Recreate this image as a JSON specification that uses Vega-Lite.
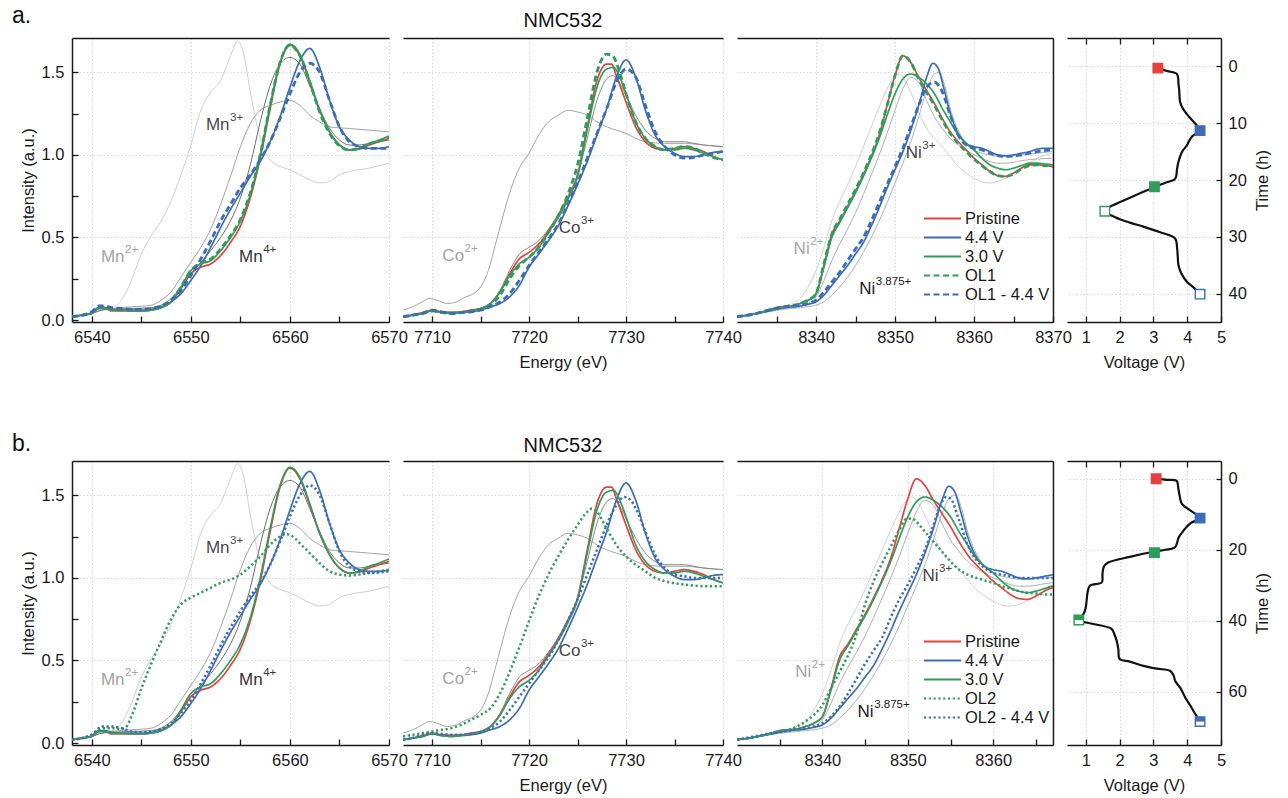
{
"$schema": "https://vega.github.io/schema/vega-lite/v6.json",
"background": "white",
"padding": {"left": 12, "top": 5, "right": 4, "bottom": 4},
"spacing": 62,
"config": {
  "font": "Liberation Sans",
  "view": {"stroke": null},
  "axis": {"labelFont": "Liberation Sans", "titleFont": "Liberation Sans", "labelFontSize": 16.5, "titleFontSize": 16.5, "titleFontWeight": "normal", "labelColor": "#1a1a1a", "titleColor": "#1a1a1a", "domainColor": "#1a1a1a", "domainWidth": 1.5, "tickColor": "#1a1a1a", "tickWidth": 1.3, "gridColor": "#d6d6d6", "gridDash": [1.5, 2], "gridWidth": 0.9, "labelFlush": false, "labelOverlap": false},
  "title": {"font": "Liberation Sans", "fontWeight": "normal", "color": "#111111"}
},
"resolve": {"scale": {"x": "independent", "y": "independent", "color": "independent", "fill": "independent", "stroke": "independent", "strokeDash": "independent"}},
"datasets": {
"mnBase": [
{"s":"Pristine","e":6538,"i":0.02},{"s":"Pristine","e":6539,"i":0.03},{"s":"Pristine","e":6540,"i":0.04},{"s":"Pristine","e":6540.7,"i":0.07},{"s":"Pristine","e":6541.3,"i":0.07},{"s":"Pristine","e":6542,"i":0.055},{"s":"Pristine","e":6543,"i":0.055},{"s":"Pristine","e":6544,"i":0.055},{"s":"Pristine","e":6545,"i":0.055},{"s":"Pristine","e":6546,"i":0.06},{"s":"Pristine","e":6547,"i":0.075},{"s":"Pristine","e":6548,"i":0.11},{"s":"Pristine","e":6549,"i":0.19},{"s":"Pristine","e":6550,"i":0.28},{"s":"Pristine","e":6551,"i":0.32},{"s":"Pristine","e":6552,"i":0.34},{"s":"Pristine","e":6553,"i":0.39},{"s":"Pristine","e":6554,"i":0.47},{"s":"Pristine","e":6555,"i":0.57},{"s":"Pristine","e":6556,"i":0.74},{"s":"Pristine","e":6557,"i":0.98},{"s":"Pristine","e":6558,"i":1.28},{"s":"Pristine","e":6559,"i":1.55},{"s":"Pristine","e":6560,"i":1.665},{"s":"Pristine","e":6561,"i":1.6},{"s":"Pristine","e":6562,"i":1.44},{"s":"Pristine","e":6563,"i":1.27},{"s":"Pristine","e":6564,"i":1.14},{"s":"Pristine","e":6565,"i":1.06},{"s":"Pristine","e":6566,"i":1.03},{"s":"Pristine","e":6567,"i":1.035},{"s":"Pristine","e":6568,"i":1.06},{"s":"Pristine","e":6569,"i":1.08},{"s":"Pristine","e":6570,"i":1.1},
{"s":"4.4 V","e":6538,"i":0.02},{"s":"4.4 V","e":6539,"i":0.03},{"s":"4.4 V","e":6540,"i":0.045},{"s":"4.4 V","e":6540.7,"i":0.075},{"s":"4.4 V","e":6541.3,"i":0.075},{"s":"4.4 V","e":6542,"i":0.065},{"s":"4.4 V","e":6543,"i":0.06},{"s":"4.4 V","e":6544,"i":0.06},{"s":"4.4 V","e":6545,"i":0.06},{"s":"4.4 V","e":6546,"i":0.065},{"s":"4.4 V","e":6547,"i":0.08},{"s":"4.4 V","e":6548,"i":0.11},{"s":"4.4 V","e":6549,"i":0.16},{"s":"4.4 V","e":6550,"i":0.24},{"s":"4.4 V","e":6551,"i":0.33},{"s":"4.4 V","e":6552,"i":0.44},{"s":"4.4 V","e":6553,"i":0.56},{"s":"4.4 V","e":6554,"i":0.67},{"s":"4.4 V","e":6555,"i":0.77},{"s":"4.4 V","e":6556,"i":0.87},{"s":"4.4 V","e":6557,"i":0.96},{"s":"4.4 V","e":6558,"i":1.08},{"s":"4.4 V","e":6559,"i":1.23},{"s":"4.4 V","e":6560,"i":1.41},{"s":"4.4 V","e":6561,"i":1.57},{"s":"4.4 V","e":6562,"i":1.645},{"s":"4.4 V","e":6563,"i":1.53},{"s":"4.4 V","e":6564,"i":1.33},{"s":"4.4 V","e":6565,"i":1.17},{"s":"4.4 V","e":6566,"i":1.09},{"s":"4.4 V","e":6567,"i":1.05},{"s":"4.4 V","e":6568,"i":1.04},{"s":"4.4 V","e":6569,"i":1.04},{"s":"4.4 V","e":6570,"i":1.05},
{"s":"3.0 V","e":6538,"i":0.02},{"s":"3.0 V","e":6539,"i":0.03},{"s":"3.0 V","e":6540,"i":0.04},{"s":"3.0 V","e":6540.7,"i":0.07},{"s":"3.0 V","e":6541.3,"i":0.07},{"s":"3.0 V","e":6542,"i":0.06},{"s":"3.0 V","e":6543,"i":0.06},{"s":"3.0 V","e":6544,"i":0.055},{"s":"3.0 V","e":6545,"i":0.055},{"s":"3.0 V","e":6546,"i":0.06},{"s":"3.0 V","e":6547,"i":0.075},{"s":"3.0 V","e":6548,"i":0.11},{"s":"3.0 V","e":6549,"i":0.2},{"s":"3.0 V","e":6550,"i":0.3},{"s":"3.0 V","e":6551,"i":0.34},{"s":"3.0 V","e":6552,"i":0.36},{"s":"3.0 V","e":6553,"i":0.42},{"s":"3.0 V","e":6554,"i":0.5},{"s":"3.0 V","e":6555,"i":0.6},{"s":"3.0 V","e":6556,"i":0.76},{"s":"3.0 V","e":6557,"i":1.0},{"s":"3.0 V","e":6558,"i":1.3},{"s":"3.0 V","e":6559,"i":1.56},{"s":"3.0 V","e":6560,"i":1.67},{"s":"3.0 V","e":6561,"i":1.61},{"s":"3.0 V","e":6562,"i":1.45},{"s":"3.0 V","e":6563,"i":1.27},{"s":"3.0 V","e":6564,"i":1.14},{"s":"3.0 V","e":6565,"i":1.06},{"s":"3.0 V","e":6566,"i":1.03},{"s":"3.0 V","e":6567,"i":1.04},{"s":"3.0 V","e":6568,"i":1.07},{"s":"3.0 V","e":6569,"i":1.09},{"s":"3.0 V","e":6570,"i":1.115}
],
"mnOL1": [
{"s":"OL1","e":6538,"i":0.02},{"s":"OL1","e":6540,"i":0.045},{"s":"OL1","e":6540.7,"i":0.075},{"s":"OL1","e":6541.3,"i":0.075},{"s":"OL1","e":6542,"i":0.065},{"s":"OL1","e":6543,"i":0.06},{"s":"OL1","e":6544,"i":0.06},{"s":"OL1","e":6545,"i":0.06},{"s":"OL1","e":6546,"i":0.065},{"s":"OL1","e":6547,"i":0.08},{"s":"OL1","e":6548,"i":0.115},{"s":"OL1","e":6549,"i":0.2},{"s":"OL1","e":6550,"i":0.3},{"s":"OL1","e":6551,"i":0.345},{"s":"OL1","e":6552,"i":0.37},{"s":"OL1","e":6553,"i":0.43},{"s":"OL1","e":6554,"i":0.51},{"s":"OL1","e":6555,"i":0.61},{"s":"OL1","e":6556,"i":0.77},{"s":"OL1","e":6557,"i":1.0},{"s":"OL1","e":6558,"i":1.3},{"s":"OL1","e":6559,"i":1.56},{"s":"OL1","e":6560,"i":1.665},{"s":"OL1","e":6561,"i":1.6},{"s":"OL1","e":6562,"i":1.44},{"s":"OL1","e":6563,"i":1.26},{"s":"OL1","e":6564,"i":1.13},{"s":"OL1","e":6565,"i":1.055},{"s":"OL1","e":6566,"i":1.03},{"s":"OL1","e":6567,"i":1.04},{"s":"OL1","e":6568,"i":1.065},{"s":"OL1","e":6569,"i":1.085},{"s":"OL1","e":6570,"i":1.105},
{"s":"OL1 - 4.4 V","e":6538,"i":0.02},{"s":"OL1 - 4.4 V","e":6540,"i":0.05},{"s":"OL1 - 4.4 V","e":6540.7,"i":0.085},{"s":"OL1 - 4.4 V","e":6541.3,"i":0.085},{"s":"OL1 - 4.4 V","e":6542,"i":0.075},{"s":"OL1 - 4.4 V","e":6543,"i":0.07},{"s":"OL1 - 4.4 V","e":6544,"i":0.065},{"s":"OL1 - 4.4 V","e":6545,"i":0.065},{"s":"OL1 - 4.4 V","e":6546,"i":0.07},{"s":"OL1 - 4.4 V","e":6547,"i":0.085},{"s":"OL1 - 4.4 V","e":6548,"i":0.12},{"s":"OL1 - 4.4 V","e":6549,"i":0.18},{"s":"OL1 - 4.4 V","e":6550,"i":0.27},{"s":"OL1 - 4.4 V","e":6551,"i":0.37},{"s":"OL1 - 4.4 V","e":6552,"i":0.48},{"s":"OL1 - 4.4 V","e":6553,"i":0.6},{"s":"OL1 - 4.4 V","e":6554,"i":0.7},{"s":"OL1 - 4.4 V","e":6555,"i":0.8},{"s":"OL1 - 4.4 V","e":6556,"i":0.88},{"s":"OL1 - 4.4 V","e":6557,"i":0.97},{"s":"OL1 - 4.4 V","e":6558,"i":1.08},{"s":"OL1 - 4.4 V","e":6559,"i":1.22},{"s":"OL1 - 4.4 V","e":6560,"i":1.37},{"s":"OL1 - 4.4 V","e":6561,"i":1.5},{"s":"OL1 - 4.4 V","e":6562,"i":1.555},{"s":"OL1 - 4.4 V","e":6563,"i":1.5},{"s":"OL1 - 4.4 V","e":6564,"i":1.33},{"s":"OL1 - 4.4 V","e":6565,"i":1.17},{"s":"OL1 - 4.4 V","e":6566,"i":1.08},{"s":"OL1 - 4.4 V","e":6567,"i":1.05},{"s":"OL1 - 4.4 V","e":6568,"i":1.04},{"s":"OL1 - 4.4 V","e":6570,"i":1.04}
],
"mnOL2": [
{"s":"OL2","e":6538,"i":0.02},{"s":"OL2","e":6540,"i":0.05},{"s":"OL2","e":6541,"i":0.09},{"s":"OL2","e":6542,"i":0.09},{"s":"OL2","e":6543,"i":0.085},{"s":"OL2","e":6543.5,"i":0.1},{"s":"OL2","e":6544,"i":0.16},{"s":"OL2","e":6545,"i":0.33},{"s":"OL2","e":6546,"i":0.48},{"s":"OL2","e":6547,"i":0.62},{"s":"OL2","e":6548,"i":0.75},{"s":"OL2","e":6549,"i":0.84},{"s":"OL2","e":6550,"i":0.88},{"s":"OL2","e":6551,"i":0.91},{"s":"OL2","e":6552,"i":0.94},{"s":"OL2","e":6553,"i":0.97},{"s":"OL2","e":6554,"i":0.99},{"s":"OL2","e":6555,"i":1.02},{"s":"OL2","e":6556,"i":1.07},{"s":"OL2","e":6557,"i":1.13},{"s":"OL2","e":6558,"i":1.2},{"s":"OL2","e":6559,"i":1.25},{"s":"OL2","e":6559.7,"i":1.265},{"s":"OL2","e":6560.5,"i":1.24},{"s":"OL2","e":6561,"i":1.21},{"s":"OL2","e":6562,"i":1.15},{"s":"OL2","e":6563,"i":1.09},{"s":"OL2","e":6564,"i":1.04},{"s":"OL2","e":6565,"i":1.02},{"s":"OL2","e":6566,"i":1.015},{"s":"OL2","e":6567,"i":1.02},{"s":"OL2","e":6568,"i":1.03},{"s":"OL2","e":6570,"i":1.05},
{"s":"OL2 - 4.4 V","e":6538,"i":0.02},{"s":"OL2 - 4.4 V","e":6540,"i":0.05},{"s":"OL2 - 4.4 V","e":6541,"i":0.1},{"s":"OL2 - 4.4 V","e":6542,"i":0.1},{"s":"OL2 - 4.4 V","e":6543,"i":0.09},{"s":"OL2 - 4.4 V","e":6544,"i":0.07},{"s":"OL2 - 4.4 V","e":6545,"i":0.065},{"s":"OL2 - 4.4 V","e":6546,"i":0.07},{"s":"OL2 - 4.4 V","e":6547,"i":0.085},{"s":"OL2 - 4.4 V","e":6548,"i":0.12},{"s":"OL2 - 4.4 V","e":6549,"i":0.18},{"s":"OL2 - 4.4 V","e":6550,"i":0.26},{"s":"OL2 - 4.4 V","e":6551,"i":0.36},{"s":"OL2 - 4.4 V","e":6552,"i":0.47},{"s":"OL2 - 4.4 V","e":6553,"i":0.59},{"s":"OL2 - 4.4 V","e":6554,"i":0.7},{"s":"OL2 - 4.4 V","e":6555,"i":0.8},{"s":"OL2 - 4.4 V","e":6556,"i":0.89},{"s":"OL2 - 4.4 V","e":6557,"i":0.97},{"s":"OL2 - 4.4 V","e":6558,"i":1.08},{"s":"OL2 - 4.4 V","e":6559,"i":1.22},{"s":"OL2 - 4.4 V","e":6560,"i":1.37},{"s":"OL2 - 4.4 V","e":6561,"i":1.5},{"s":"OL2 - 4.4 V","e":6562,"i":1.56},{"s":"OL2 - 4.4 V","e":6563,"i":1.5},{"s":"OL2 - 4.4 V","e":6564,"i":1.33},{"s":"OL2 - 4.4 V","e":6565,"i":1.16},{"s":"OL2 - 4.4 V","e":6566,"i":1.07},{"s":"OL2 - 4.4 V","e":6567,"i":1.04},{"s":"OL2 - 4.4 V","e":6568,"i":1.03},{"s":"OL2 - 4.4 V","e":6570,"i":1.04}
],
"mnRef": [
{"ion":"2+","e":6538,"i":0.02},{"ion":"2+","e":6540,"i":0.04},{"ion":"2+","e":6541,"i":0.07},{"ion":"2+","e":6542,"i":0.075},{"ion":"2+","e":6543,"i":0.12},{"ion":"2+","e":6544,"i":0.24},{"ion":"2+","e":6545,"i":0.4},{"ion":"2+","e":6546,"i":0.51},{"ion":"2+","e":6547,"i":0.6},{"ion":"2+","e":6548,"i":0.72},{"ion":"2+","e":6549,"i":0.88},{"ion":"2+","e":6550,"i":1.06},{"ion":"2+","e":6551,"i":1.27},{"ion":"2+","e":6552,"i":1.38},{"ion":"2+","e":6553,"i":1.45},{"ion":"2+","e":6554,"i":1.6},{"ion":"2+","e":6554.7,"i":1.69},{"ion":"2+","e":6555.3,"i":1.62},{"ion":"2+","e":6556,"i":1.38},{"ion":"2+","e":6557,"i":1.1},{"ion":"2+","e":6558,"i":0.97},{"ion":"2+","e":6559,"i":0.93},{"ion":"2+","e":6560,"i":0.91},{"ion":"2+","e":6561,"i":0.88},{"ion":"2+","e":6562,"i":0.85},{"ion":"2+","e":6563,"i":0.83},{"ion":"2+","e":6564,"i":0.84},{"ion":"2+","e":6565,"i":0.88},{"ion":"2+","e":6566,"i":0.9},{"ion":"2+","e":6568,"i":0.92},{"ion":"2+","e":6570,"i":0.95},
{"ion":"3+","e":6538,"i":0.02},{"ion":"3+","e":6540,"i":0.04},{"ion":"3+","e":6541,"i":0.06},{"ion":"3+","e":6542,"i":0.07},{"ion":"3+","e":6544,"i":0.08},{"ion":"3+","e":6546,"i":0.09},{"ion":"3+","e":6547,"i":0.12},{"ion":"3+","e":6548,"i":0.17},{"ion":"3+","e":6549,"i":0.26},{"ion":"3+","e":6550,"i":0.35},{"ion":"3+","e":6551,"i":0.44},{"ion":"3+","e":6552,"i":0.55},{"ion":"3+","e":6553,"i":0.7},{"ion":"3+","e":6554,"i":0.87},{"ion":"3+","e":6555,"i":1.05},{"ion":"3+","e":6556,"i":1.19},{"ion":"3+","e":6557,"i":1.27},{"ion":"3+","e":6558,"i":1.3},{"ion":"3+","e":6559,"i":1.32},{"ion":"3+","e":6560,"i":1.33},{"ion":"3+","e":6561,"i":1.3},{"ion":"3+","e":6562,"i":1.24},{"ion":"3+","e":6563,"i":1.2},{"ion":"3+","e":6564,"i":1.17},{"ion":"3+","e":6566,"i":1.16},{"ion":"3+","e":6568,"i":1.15},{"ion":"3+","e":6570,"i":1.14},
{"ion":"4+","e":6538,"i":0.02},{"ion":"4+","e":6540,"i":0.04},{"ion":"4+","e":6541,"i":0.06},{"ion":"4+","e":6542,"i":0.065},{"ion":"4+","e":6544,"i":0.07},{"ion":"4+","e":6546,"i":0.075},{"ion":"4+","e":6547,"i":0.09},{"ion":"4+","e":6548,"i":0.13},{"ion":"4+","e":6549,"i":0.2},{"ion":"4+","e":6550,"i":0.28},{"ion":"4+","e":6551,"i":0.35},{"ion":"4+","e":6552,"i":0.42},{"ion":"4+","e":6553,"i":0.5},{"ion":"4+","e":6554,"i":0.6},{"ion":"4+","e":6555,"i":0.74},{"ion":"4+","e":6556,"i":0.94},{"ion":"4+","e":6557,"i":1.2},{"ion":"4+","e":6558,"i":1.42},{"ion":"4+","e":6559,"i":1.55},{"ion":"4+","e":6560,"i":1.59},{"ion":"4+","e":6561,"i":1.55},{"ion":"4+","e":6562,"i":1.42},{"ion":"4+","e":6563,"i":1.28},{"ion":"4+","e":6564,"i":1.16},{"ion":"4+","e":6565,"i":1.09},{"ion":"4+","e":6566,"i":1.06},{"ion":"4+","e":6567,"i":1.06},{"ion":"4+","e":6568,"i":1.07},{"ion":"4+","e":6570,"i":1.09}
],
"mnLab": [{"el":"Mn","ion":"2+","e":6543.3,"i":0.38},{"el":"Mn","ion":"3+","e":6553.9,"i":1.18},{"el":"Mn","ion":"4+","e":6557.25,"i":0.38}],
"coBase": [
{"s":"Pristine","e":7707,"i":0.02},{"s":"Pristine","e":7708,"i":0.03},{"s":"Pristine","e":7709,"i":0.045},{"s":"Pristine","e":7710,"i":0.06},{"s":"Pristine","e":7711,"i":0.05},{"s":"Pristine","e":7712,"i":0.045},{"s":"Pristine","e":7713,"i":0.05},{"s":"Pristine","e":7714,"i":0.06},{"s":"Pristine","e":7715,"i":0.07},{"s":"Pristine","e":7716,"i":0.1},{"s":"Pristine","e":7717,"i":0.17},{"s":"Pristine","e":7718,"i":0.28},{"s":"Pristine","e":7719,"i":0.37},{"s":"Pristine","e":7720,"i":0.41},{"s":"Pristine","e":7721,"i":0.46},{"s":"Pristine","e":7722,"i":0.54},{"s":"Pristine","e":7723,"i":0.63},{"s":"Pristine","e":7724,"i":0.74},{"s":"Pristine","e":7725,"i":0.88},{"s":"Pristine","e":7726,"i":1.17},{"s":"Pristine","e":7727,"i":1.45},{"s":"Pristine","e":7728,"i":1.55},{"s":"Pristine","e":7728.5,"i":1.55},{"s":"Pristine","e":7729,"i":1.48},{"s":"Pristine","e":7730,"i":1.32},{"s":"Pristine","e":7731,"i":1.17},{"s":"Pristine","e":7732,"i":1.08},{"s":"Pristine","e":7733,"i":1.04},{"s":"Pristine","e":7734,"i":1.03},{"s":"Pristine","e":7735,"i":1.04},{"s":"Pristine","e":7736,"i":1.05},{"s":"Pristine","e":7737,"i":1.04},{"s":"Pristine","e":7738,"i":1.02},{"s":"Pristine","e":7739,"i":0.99},{"s":"Pristine","e":7740,"i":0.97},
{"s":"4.4 V","e":7707,"i":0.02},{"s":"4.4 V","e":7708,"i":0.03},{"s":"4.4 V","e":7709,"i":0.04},{"s":"4.4 V","e":7710,"i":0.055},{"s":"4.4 V","e":7711,"i":0.045},{"s":"4.4 V","e":7712,"i":0.04},{"s":"4.4 V","e":7713,"i":0.045},{"s":"4.4 V","e":7714,"i":0.05},{"s":"4.4 V","e":7715,"i":0.06},{"s":"4.4 V","e":7716,"i":0.08},{"s":"4.4 V","e":7717,"i":0.1},{"s":"4.4 V","e":7718,"i":0.14},{"s":"4.4 V","e":7719,"i":0.21},{"s":"4.4 V","e":7720,"i":0.32},{"s":"4.4 V","e":7721,"i":0.4},{"s":"4.4 V","e":7722,"i":0.48},{"s":"4.4 V","e":7723,"i":0.57},{"s":"4.4 V","e":7724,"i":0.69},{"s":"4.4 V","e":7725,"i":0.82},{"s":"4.4 V","e":7726,"i":0.96},{"s":"4.4 V","e":7727,"i":1.12},{"s":"4.4 V","e":7728,"i":1.28},{"s":"4.4 V","e":7729,"i":1.47},{"s":"4.4 V","e":7730,"i":1.575},{"s":"4.4 V","e":7731,"i":1.47},{"s":"4.4 V","e":7732,"i":1.27},{"s":"4.4 V","e":7733,"i":1.12},{"s":"4.4 V","e":7734,"i":1.05},{"s":"4.4 V","e":7735,"i":1.01},{"s":"4.4 V","e":7736,"i":0.99},{"s":"4.4 V","e":7737,"i":0.99},{"s":"4.4 V","e":7738,"i":1.0},{"s":"4.4 V","e":7739,"i":1.015},{"s":"4.4 V","e":7740,"i":1.02},
{"s":"3.0 V","e":7707,"i":0.02},{"s":"3.0 V","e":7708,"i":0.03},{"s":"3.0 V","e":7709,"i":0.04},{"s":"3.0 V","e":7710,"i":0.055},{"s":"3.0 V","e":7711,"i":0.045},{"s":"3.0 V","e":7712,"i":0.04},{"s":"3.0 V","e":7713,"i":0.045},{"s":"3.0 V","e":7714,"i":0.055},{"s":"3.0 V","e":7715,"i":0.07},{"s":"3.0 V","e":7716,"i":0.1},{"s":"3.0 V","e":7717,"i":0.17},{"s":"3.0 V","e":7718,"i":0.27},{"s":"3.0 V","e":7719,"i":0.34},{"s":"3.0 V","e":7720,"i":0.38},{"s":"3.0 V","e":7721,"i":0.44},{"s":"3.0 V","e":7722,"i":0.53},{"s":"3.0 V","e":7723,"i":0.62},{"s":"3.0 V","e":7724,"i":0.73},{"s":"3.0 V","e":7725,"i":0.87},{"s":"3.0 V","e":7726,"i":1.15},{"s":"3.0 V","e":7727,"i":1.41},{"s":"3.0 V","e":7728,"i":1.52},{"s":"3.0 V","e":7728.7,"i":1.53},{"s":"3.0 V","e":7729.5,"i":1.45},{"s":"3.0 V","e":7730,"i":1.37},{"s":"3.0 V","e":7731,"i":1.2},{"s":"3.0 V","e":7732,"i":1.1},{"s":"3.0 V","e":7733,"i":1.05},{"s":"3.0 V","e":7734,"i":1.03},{"s":"3.0 V","e":7735,"i":1.03},{"s":"3.0 V","e":7736,"i":1.04},{"s":"3.0 V","e":7737,"i":1.03},{"s":"3.0 V","e":7738,"i":1.01},{"s":"3.0 V","e":7739,"i":0.99},{"s":"3.0 V","e":7740,"i":0.97}
],
"coOL1": [
{"s":"OL1","e":7707,"i":0.02},{"s":"OL1","e":7708,"i":0.03},{"s":"OL1","e":7709,"i":0.04},{"s":"OL1","e":7710,"i":0.055},{"s":"OL1","e":7711,"i":0.045},{"s":"OL1","e":7712,"i":0.04},{"s":"OL1","e":7713,"i":0.045},{"s":"OL1","e":7714,"i":0.055},{"s":"OL1","e":7715,"i":0.065},{"s":"OL1","e":7716,"i":0.09},{"s":"OL1","e":7717,"i":0.15},{"s":"OL1","e":7718,"i":0.25},{"s":"OL1","e":7719,"i":0.33},{"s":"OL1","e":7720,"i":0.38},{"s":"OL1","e":7721,"i":0.44},{"s":"OL1","e":7722,"i":0.53},{"s":"OL1","e":7723,"i":0.63},{"s":"OL1","e":7724,"i":0.76},{"s":"OL1","e":7725,"i":0.94},{"s":"OL1","e":7726,"i":1.22},{"s":"OL1","e":7727,"i":1.5},{"s":"OL1","e":7728,"i":1.61},{"s":"OL1","e":7728.6,"i":1.6},{"s":"OL1","e":7729.5,"i":1.47},{"s":"OL1","e":7730,"i":1.37},{"s":"OL1","e":7731,"i":1.2},{"s":"OL1","e":7732,"i":1.1},{"s":"OL1","e":7733,"i":1.05},{"s":"OL1","e":7734,"i":1.03},{"s":"OL1","e":7735,"i":1.04},{"s":"OL1","e":7736,"i":1.05},{"s":"OL1","e":7737,"i":1.04},{"s":"OL1","e":7738,"i":1.01},{"s":"OL1","e":7739,"i":0.985},{"s":"OL1","e":7740,"i":0.97},
{"s":"OL1 - 4.4 V","e":7707,"i":0.02},{"s":"OL1 - 4.4 V","e":7708,"i":0.03},{"s":"OL1 - 4.4 V","e":7709,"i":0.04},{"s":"OL1 - 4.4 V","e":7710,"i":0.06},{"s":"OL1 - 4.4 V","e":7711,"i":0.05},{"s":"OL1 - 4.4 V","e":7712,"i":0.04},{"s":"OL1 - 4.4 V","e":7713,"i":0.045},{"s":"OL1 - 4.4 V","e":7714,"i":0.05},{"s":"OL1 - 4.4 V","e":7715,"i":0.06},{"s":"OL1 - 4.4 V","e":7716,"i":0.08},{"s":"OL1 - 4.4 V","e":7717,"i":0.11},{"s":"OL1 - 4.4 V","e":7718,"i":0.16},{"s":"OL1 - 4.4 V","e":7719,"i":0.24},{"s":"OL1 - 4.4 V","e":7720,"i":0.33},{"s":"OL1 - 4.4 V","e":7721,"i":0.41},{"s":"OL1 - 4.4 V","e":7722,"i":0.49},{"s":"OL1 - 4.4 V","e":7723,"i":0.58},{"s":"OL1 - 4.4 V","e":7724,"i":0.7},{"s":"OL1 - 4.4 V","e":7725,"i":0.83},{"s":"OL1 - 4.4 V","e":7726,"i":0.98},{"s":"OL1 - 4.4 V","e":7727,"i":1.13},{"s":"OL1 - 4.4 V","e":7728,"i":1.28},{"s":"OL1 - 4.4 V","e":7729,"i":1.44},{"s":"OL1 - 4.4 V","e":7730,"i":1.52},{"s":"OL1 - 4.4 V","e":7731,"i":1.47},{"s":"OL1 - 4.4 V","e":7732,"i":1.3},{"s":"OL1 - 4.4 V","e":7733,"i":1.14},{"s":"OL1 - 4.4 V","e":7734,"i":1.05},{"s":"OL1 - 4.4 V","e":7735,"i":1.0},{"s":"OL1 - 4.4 V","e":7736,"i":0.98},{"s":"OL1 - 4.4 V","e":7737,"i":0.985},{"s":"OL1 - 4.4 V","e":7738,"i":1.0},{"s":"OL1 - 4.4 V","e":7739,"i":1.01},{"s":"OL1 - 4.4 V","e":7740,"i":1.02}
],
"coOL2": [
{"s":"OL2","e":7707,"i":0.04},{"s":"OL2","e":7708,"i":0.05},{"s":"OL2","e":7709,"i":0.06},{"s":"OL2","e":7710,"i":0.07},{"s":"OL2","e":7711,"i":0.08},{"s":"OL2","e":7712,"i":0.09},{"s":"OL2","e":7713,"i":0.11},{"s":"OL2","e":7714,"i":0.14},{"s":"OL2","e":7715,"i":0.17},{"s":"OL2","e":7716,"i":0.21},{"s":"OL2","e":7717,"i":0.3},{"s":"OL2","e":7718,"i":0.43},{"s":"OL2","e":7719,"i":0.58},{"s":"OL2","e":7720,"i":0.74},{"s":"OL2","e":7721,"i":0.89},{"s":"OL2","e":7722,"i":1.02},{"s":"OL2","e":7723,"i":1.13},{"s":"OL2","e":7724,"i":1.23},{"s":"OL2","e":7725,"i":1.32},{"s":"OL2","e":7726,"i":1.4},{"s":"OL2","e":7726.5,"i":1.42},{"s":"OL2","e":7727,"i":1.4},{"s":"OL2","e":7728,"i":1.3},{"s":"OL2","e":7729,"i":1.2},{"s":"OL2","e":7730,"i":1.13},{"s":"OL2","e":7731,"i":1.08},{"s":"OL2","e":7732,"i":1.04},{"s":"OL2","e":7733,"i":1.0},{"s":"OL2","e":7734,"i":0.98},{"s":"OL2","e":7736,"i":0.96},{"s":"OL2","e":7738,"i":0.95},{"s":"OL2","e":7740,"i":0.95},
{"s":"OL2 - 4.4 V","e":7707,"i":0.02},{"s":"OL2 - 4.4 V","e":7708,"i":0.03},{"s":"OL2 - 4.4 V","e":7709,"i":0.05},{"s":"OL2 - 4.4 V","e":7710,"i":0.06},{"s":"OL2 - 4.4 V","e":7711,"i":0.055},{"s":"OL2 - 4.4 V","e":7712,"i":0.05},{"s":"OL2 - 4.4 V","e":7713,"i":0.05},{"s":"OL2 - 4.4 V","e":7714,"i":0.055},{"s":"OL2 - 4.4 V","e":7715,"i":0.065},{"s":"OL2 - 4.4 V","e":7716,"i":0.09},{"s":"OL2 - 4.4 V","e":7717,"i":0.13},{"s":"OL2 - 4.4 V","e":7718,"i":0.2},{"s":"OL2 - 4.4 V","e":7719,"i":0.28},{"s":"OL2 - 4.4 V","e":7720,"i":0.36},{"s":"OL2 - 4.4 V","e":7721,"i":0.44},{"s":"OL2 - 4.4 V","e":7722,"i":0.52},{"s":"OL2 - 4.4 V","e":7723,"i":0.62},{"s":"OL2 - 4.4 V","e":7724,"i":0.74},{"s":"OL2 - 4.4 V","e":7725,"i":0.87},{"s":"OL2 - 4.4 V","e":7726,"i":1.02},{"s":"OL2 - 4.4 V","e":7727,"i":1.17},{"s":"OL2 - 4.4 V","e":7728,"i":1.32},{"s":"OL2 - 4.4 V","e":7729,"i":1.44},{"s":"OL2 - 4.4 V","e":7729.8,"i":1.49},{"s":"OL2 - 4.4 V","e":7730.5,"i":1.47},{"s":"OL2 - 4.4 V","e":7731,"i":1.42},{"s":"OL2 - 4.4 V","e":7732,"i":1.28},{"s":"OL2 - 4.4 V","e":7733,"i":1.14},{"s":"OL2 - 4.4 V","e":7734,"i":1.06},{"s":"OL2 - 4.4 V","e":7735,"i":1.02},{"s":"OL2 - 4.4 V","e":7736,"i":1.01},{"s":"OL2 - 4.4 V","e":7737,"i":1.0},{"s":"OL2 - 4.4 V","e":7738,"i":1.0},{"s":"OL2 - 4.4 V","e":7740,"i":1.0}
],
"coRef": [
{"ion":"2+","e":7707,"i":0.06},{"ion":"2+","e":7708,"i":0.08},{"ion":"2+","e":7709,"i":0.11},{"ion":"2+","e":7709.7,"i":0.13},{"ion":"2+","e":7710.5,"i":0.12},{"ion":"2+","e":7711.5,"i":0.1},{"ion":"2+","e":7712.5,"i":0.11},{"ion":"2+","e":7713.5,"i":0.14},{"ion":"2+","e":7714.3,"i":0.16},{"ion":"2+","e":7715,"i":0.2},{"ion":"2+","e":7715.8,"i":0.3},{"ion":"2+","e":7716.5,"i":0.45},{"ion":"2+","e":7717,"i":0.56},{"ion":"2+","e":7718,"i":0.77},{"ion":"2+","e":7719,"i":0.92},{"ion":"2+","e":7720,"i":1.01},{"ion":"2+","e":7721,"i":1.12},{"ion":"2+","e":7722,"i":1.2},{"ion":"2+","e":7723,"i":1.24},{"ion":"2+","e":7724,"i":1.27},{"ion":"2+","e":7725,"i":1.26},{"ion":"2+","e":7726,"i":1.24},{"ion":"2+","e":7727,"i":1.2},{"ion":"2+","e":7728,"i":1.17},{"ion":"2+","e":7729,"i":1.15},{"ion":"2+","e":7730,"i":1.13},{"ion":"2+","e":7731,"i":1.1},{"ion":"2+","e":7732,"i":1.08},{"ion":"2+","e":7734,"i":1.07},{"ion":"2+","e":7736,"i":1.07},{"ion":"2+","e":7738,"i":1.06},{"ion":"2+","e":7740,"i":1.05},
{"ion":"3+","e":7707,"i":0.02},{"ion":"3+","e":7709,"i":0.04},{"ion":"3+","e":7710,"i":0.06},{"ion":"3+","e":7711,"i":0.05},{"ion":"3+","e":7713,"i":0.05},{"ion":"3+","e":7714,"i":0.06},{"ion":"3+","e":7715,"i":0.07},{"ion":"3+","e":7716,"i":0.1},{"ion":"3+","e":7717,"i":0.18},{"ion":"3+","e":7718,"i":0.3},{"ion":"3+","e":7719,"i":0.4},{"ion":"3+","e":7720,"i":0.44},{"ion":"3+","e":7721,"i":0.48},{"ion":"3+","e":7722,"i":0.55},{"ion":"3+","e":7723,"i":0.64},{"ion":"3+","e":7724,"i":0.75},{"ion":"3+","e":7725,"i":0.88},{"ion":"3+","e":7726,"i":1.1},{"ion":"3+","e":7727,"i":1.33},{"ion":"3+","e":7728,"i":1.46},{"ion":"3+","e":7728.6,"i":1.48},{"ion":"3+","e":7729.5,"i":1.42},{"ion":"3+","e":7730,"i":1.36},{"ion":"3+","e":7731,"i":1.24},{"ion":"3+","e":7732,"i":1.15},{"ion":"3+","e":7733,"i":1.1},{"ion":"3+","e":7734,"i":1.08},{"ion":"3+","e":7735,"i":1.08},{"ion":"3+","e":7736,"i":1.08},{"ion":"3+","e":7737,"i":1.07},{"ion":"3+","e":7738,"i":1.06},{"ion":"3+","e":7740,"i":1.05}
],
"coLab": [{"el":"Co","ion":"2+","e":7713.3,"i":0.39},{"el":"Co","ion":"3+","e":7725.3,"i":0.56}],
"niBase": [
{"s":"Pristine","e":8330,"i":0.02},{"s":"Pristine","e":8332,"i":0.035},{"s":"Pristine","e":8334,"i":0.06},{"s":"Pristine","e":8335,"i":0.075},{"s":"Pristine","e":8336,"i":0.08},{"s":"Pristine","e":8337,"i":0.085},{"s":"Pristine","e":8338,"i":0.1},{"s":"Pristine","e":8339,"i":0.12},{"s":"Pristine","e":8340,"i":0.16},{"s":"Pristine","e":8341,"i":0.33},{"s":"Pristine","e":8342,"i":0.52},{"s":"Pristine","e":8343,"i":0.6},{"s":"Pristine","e":8344,"i":0.69},{"s":"Pristine","e":8345,"i":0.78},{"s":"Pristine","e":8346,"i":0.88},{"s":"Pristine","e":8347,"i":0.99},{"s":"Pristine","e":8348,"i":1.12},{"s":"Pristine","e":8349,"i":1.3},{"s":"Pristine","e":8350,"i":1.48},{"s":"Pristine","e":8351,"i":1.6},{"s":"Pristine","e":8352,"i":1.56},{"s":"Pristine","e":8353,"i":1.47},{"s":"Pristine","e":8354,"i":1.39},{"s":"Pristine","e":8355,"i":1.31},{"s":"Pristine","e":8356,"i":1.22},{"s":"Pristine","e":8357,"i":1.14},{"s":"Pristine","e":8358,"i":1.08},{"s":"Pristine","e":8359,"i":1.03},{"s":"Pristine","e":8360,"i":0.98},{"s":"Pristine","e":8361,"i":0.94},{"s":"Pristine","e":8362,"i":0.9},{"s":"Pristine","e":8363,"i":0.875},{"s":"Pristine","e":8364,"i":0.87},{"s":"Pristine","e":8365,"i":0.89},{"s":"Pristine","e":8366,"i":0.92},{"s":"Pristine","e":8367,"i":0.94},{"s":"Pristine","e":8368,"i":0.94},{"s":"Pristine","e":8369,"i":0.935},{"s":"Pristine","e":8370,"i":0.93},
{"s":"4.4 V","e":8330,"i":0.02},{"s":"4.4 V","e":8332,"i":0.035},{"s":"4.4 V","e":8334,"i":0.055},{"s":"4.4 V","e":8336,"i":0.075},{"s":"4.4 V","e":8338,"i":0.085},{"s":"4.4 V","e":8339,"i":0.095},{"s":"4.4 V","e":8340,"i":0.11},{"s":"4.4 V","e":8341,"i":0.15},{"s":"4.4 V","e":8342,"i":0.21},{"s":"4.4 V","e":8343,"i":0.27},{"s":"4.4 V","e":8344,"i":0.33},{"s":"4.4 V","e":8345,"i":0.4},{"s":"4.4 V","e":8346,"i":0.47},{"s":"4.4 V","e":8347,"i":0.57},{"s":"4.4 V","e":8348,"i":0.68},{"s":"4.4 V","e":8349,"i":0.8},{"s":"4.4 V","e":8350,"i":0.91},{"s":"4.4 V","e":8351,"i":1.02},{"s":"4.4 V","e":8352,"i":1.15},{"s":"4.4 V","e":8353,"i":1.3},{"s":"4.4 V","e":8354,"i":1.47},{"s":"4.4 V","e":8354.8,"i":1.555},{"s":"4.4 V","e":8355.5,"i":1.52},{"s":"4.4 V","e":8356.2,"i":1.4},{"s":"4.4 V","e":8357,"i":1.25},{"s":"4.4 V","e":8358,"i":1.13},{"s":"4.4 V","e":8359,"i":1.07},{"s":"4.4 V","e":8360,"i":1.05},{"s":"4.4 V","e":8361,"i":1.04},{"s":"4.4 V","e":8362,"i":1.02},{"s":"4.4 V","e":8363,"i":1.0},{"s":"4.4 V","e":8364,"i":0.995},{"s":"4.4 V","e":8365,"i":1.0},{"s":"4.4 V","e":8366,"i":1.01},{"s":"4.4 V","e":8367,"i":1.02},{"s":"4.4 V","e":8368,"i":1.035},{"s":"4.4 V","e":8369,"i":1.04},{"s":"4.4 V","e":8370,"i":1.04},
{"s":"3.0 V","e":8330,"i":0.02},{"s":"3.0 V","e":8332,"i":0.035},{"s":"3.0 V","e":8334,"i":0.06},{"s":"3.0 V","e":8335,"i":0.075},{"s":"3.0 V","e":8336,"i":0.08},{"s":"3.0 V","e":8337,"i":0.085},{"s":"3.0 V","e":8338,"i":0.1},{"s":"3.0 V","e":8339,"i":0.12},{"s":"3.0 V","e":8340,"i":0.16},{"s":"3.0 V","e":8341,"i":0.32},{"s":"3.0 V","e":8342,"i":0.5},{"s":"3.0 V","e":8343,"i":0.59},{"s":"3.0 V","e":8344,"i":0.68},{"s":"3.0 V","e":8345,"i":0.77},{"s":"3.0 V","e":8346,"i":0.87},{"s":"3.0 V","e":8347,"i":0.98},{"s":"3.0 V","e":8348,"i":1.1},{"s":"3.0 V","e":8349,"i":1.24},{"s":"3.0 V","e":8350,"i":1.37},{"s":"3.0 V","e":8351,"i":1.46},{"s":"3.0 V","e":8352,"i":1.49},{"s":"3.0 V","e":8353,"i":1.47},{"s":"3.0 V","e":8354,"i":1.43},{"s":"3.0 V","e":8355,"i":1.37},{"s":"3.0 V","e":8356,"i":1.28},{"s":"3.0 V","e":8357,"i":1.2},{"s":"3.0 V","e":8358,"i":1.12},{"s":"3.0 V","e":8359,"i":1.07},{"s":"3.0 V","e":8360,"i":1.03},{"s":"3.0 V","e":8361,"i":0.98},{"s":"3.0 V","e":8362,"i":0.94},{"s":"3.0 V","e":8363,"i":0.92},{"s":"3.0 V","e":8364,"i":0.91},{"s":"3.0 V","e":8365,"i":0.92},{"s":"3.0 V","e":8366,"i":0.935},{"s":"3.0 V","e":8367,"i":0.95},{"s":"3.0 V","e":8368,"i":0.95},{"s":"3.0 V","e":8369,"i":0.945},{"s":"3.0 V","e":8370,"i":0.94}
],
"niOL1": [
{"s":"OL1","e":8330,"i":0.02},{"s":"OL1","e":8332,"i":0.035},{"s":"OL1","e":8334,"i":0.06},{"s":"OL1","e":8336,"i":0.08},{"s":"OL1","e":8338,"i":0.1},{"s":"OL1","e":8339,"i":0.12},{"s":"OL1","e":8340,"i":0.16},{"s":"OL1","e":8341,"i":0.34},{"s":"OL1","e":8342,"i":0.52},{"s":"OL1","e":8343,"i":0.61},{"s":"OL1","e":8344,"i":0.7},{"s":"OL1","e":8345,"i":0.79},{"s":"OL1","e":8346,"i":0.89},{"s":"OL1","e":8347,"i":1.0},{"s":"OL1","e":8348,"i":1.13},{"s":"OL1","e":8349,"i":1.3},{"s":"OL1","e":8350,"i":1.48},{"s":"OL1","e":8351,"i":1.6},{"s":"OL1","e":8352,"i":1.56},{"s":"OL1","e":8353,"i":1.46},{"s":"OL1","e":8354,"i":1.38},{"s":"OL1","e":8355,"i":1.3},{"s":"OL1","e":8356,"i":1.21},{"s":"OL1","e":8357,"i":1.13},{"s":"OL1","e":8358,"i":1.07},{"s":"OL1","e":8359,"i":1.02},{"s":"OL1","e":8360,"i":0.975},{"s":"OL1","e":8361,"i":0.935},{"s":"OL1","e":8362,"i":0.9},{"s":"OL1","e":8363,"i":0.875},{"s":"OL1","e":8364,"i":0.87},{"s":"OL1","e":8365,"i":0.885},{"s":"OL1","e":8366,"i":0.915},{"s":"OL1","e":8367,"i":0.935},{"s":"OL1","e":8368,"i":0.94},{"s":"OL1","e":8369,"i":0.935},{"s":"OL1","e":8370,"i":0.93},
{"s":"OL1 - 4.4 V","e":8330,"i":0.02},{"s":"OL1 - 4.4 V","e":8332,"i":0.035},{"s":"OL1 - 4.4 V","e":8334,"i":0.06},{"s":"OL1 - 4.4 V","e":8336,"i":0.08},{"s":"OL1 - 4.4 V","e":8338,"i":0.09},{"s":"OL1 - 4.4 V","e":8339,"i":0.1},{"s":"OL1 - 4.4 V","e":8340,"i":0.12},{"s":"OL1 - 4.4 V","e":8341,"i":0.17},{"s":"OL1 - 4.4 V","e":8342,"i":0.23},{"s":"OL1 - 4.4 V","e":8343,"i":0.29},{"s":"OL1 - 4.4 V","e":8344,"i":0.36},{"s":"OL1 - 4.4 V","e":8345,"i":0.43},{"s":"OL1 - 4.4 V","e":8346,"i":0.5},{"s":"OL1 - 4.4 V","e":8347,"i":0.6},{"s":"OL1 - 4.4 V","e":8348,"i":0.71},{"s":"OL1 - 4.4 V","e":8349,"i":0.82},{"s":"OL1 - 4.4 V","e":8350,"i":0.93},{"s":"OL1 - 4.4 V","e":8351,"i":1.04},{"s":"OL1 - 4.4 V","e":8352,"i":1.17},{"s":"OL1 - 4.4 V","e":8353,"i":1.3},{"s":"OL1 - 4.4 V","e":8354,"i":1.41},{"s":"OL1 - 4.4 V","e":8355,"i":1.44},{"s":"OL1 - 4.4 V","e":8356,"i":1.38},{"s":"OL1 - 4.4 V","e":8357,"i":1.24},{"s":"OL1 - 4.4 V","e":8358,"i":1.12},{"s":"OL1 - 4.4 V","e":8359,"i":1.06},{"s":"OL1 - 4.4 V","e":8360,"i":1.04},{"s":"OL1 - 4.4 V","e":8361,"i":1.03},{"s":"OL1 - 4.4 V","e":8362,"i":1.01},{"s":"OL1 - 4.4 V","e":8363,"i":0.995},{"s":"OL1 - 4.4 V","e":8364,"i":0.99},{"s":"OL1 - 4.4 V","e":8366,"i":1.0},{"s":"OL1 - 4.4 V","e":8368,"i":1.02},{"s":"OL1 - 4.4 V","e":8370,"i":1.03}
],
"niOL2": [
{"s":"OL2","e":8330,"i":0.02},{"s":"OL2","e":8332,"i":0.04},{"s":"OL2","e":8334,"i":0.06},{"s":"OL2","e":8335,"i":0.07},{"s":"OL2","e":8336,"i":0.08},{"s":"OL2","e":8337,"i":0.1},{"s":"OL2","e":8338,"i":0.13},{"s":"OL2","e":8339,"i":0.17},{"s":"OL2","e":8340,"i":0.23},{"s":"OL2","e":8341,"i":0.33},{"s":"OL2","e":8342,"i":0.43},{"s":"OL2","e":8343,"i":0.53},{"s":"OL2","e":8344,"i":0.66},{"s":"OL2","e":8345,"i":0.84},{"s":"OL2","e":8346,"i":0.98},{"s":"OL2","e":8347,"i":1.09},{"s":"OL2","e":8348,"i":1.19},{"s":"OL2","e":8349,"i":1.29},{"s":"OL2","e":8349.8,"i":1.355},{"s":"OL2","e":8350.5,"i":1.36},{"s":"OL2","e":8351,"i":1.34},{"s":"OL2","e":8352,"i":1.28},{"s":"OL2","e":8353,"i":1.22},{"s":"OL2","e":8354,"i":1.16},{"s":"OL2","e":8355,"i":1.1},{"s":"OL2","e":8356,"i":1.05},{"s":"OL2","e":8357,"i":1.02},{"s":"OL2","e":8358,"i":1.0},{"s":"OL2","e":8359,"i":0.985},{"s":"OL2","e":8360,"i":0.97},{"s":"OL2","e":8361,"i":0.95},{"s":"OL2","e":8362,"i":0.935},{"s":"OL2","e":8363,"i":0.92},{"s":"OL2","e":8364,"i":0.91},{"s":"OL2","e":8365,"i":0.905},{"s":"OL2","e":8366,"i":0.9},{"s":"OL2","e":8367,"i":0.9},
{"s":"OL2 - 4.4 V","e":8330,"i":0.02},{"s":"OL2 - 4.4 V","e":8332,"i":0.035},{"s":"OL2 - 4.4 V","e":8334,"i":0.06},{"s":"OL2 - 4.4 V","e":8336,"i":0.075},{"s":"OL2 - 4.4 V","e":8338,"i":0.09},{"s":"OL2 - 4.4 V","e":8339,"i":0.1},{"s":"OL2 - 4.4 V","e":8340,"i":0.12},{"s":"OL2 - 4.4 V","e":8341,"i":0.16},{"s":"OL2 - 4.4 V","e":8342,"i":0.22},{"s":"OL2 - 4.4 V","e":8343,"i":0.3},{"s":"OL2 - 4.4 V","e":8344,"i":0.39},{"s":"OL2 - 4.4 V","e":8345,"i":0.48},{"s":"OL2 - 4.4 V","e":8346,"i":0.56},{"s":"OL2 - 4.4 V","e":8347,"i":0.64},{"s":"OL2 - 4.4 V","e":8348,"i":0.76},{"s":"OL2 - 4.4 V","e":8349,"i":0.87},{"s":"OL2 - 4.4 V","e":8350,"i":0.96},{"s":"OL2 - 4.4 V","e":8351,"i":1.06},{"s":"OL2 - 4.4 V","e":8352,"i":1.17},{"s":"OL2 - 4.4 V","e":8353,"i":1.32},{"s":"OL2 - 4.4 V","e":8354,"i":1.46},{"s":"OL2 - 4.4 V","e":8354.5,"i":1.49},{"s":"OL2 - 4.4 V","e":8355,"i":1.48},{"s":"OL2 - 4.4 V","e":8356,"i":1.35},{"s":"OL2 - 4.4 V","e":8357,"i":1.2},{"s":"OL2 - 4.4 V","e":8358,"i":1.11},{"s":"OL2 - 4.4 V","e":8359,"i":1.06},{"s":"OL2 - 4.4 V","e":8360,"i":1.03},{"s":"OL2 - 4.4 V","e":8361,"i":1.02},{"s":"OL2 - 4.4 V","e":8362,"i":1.01},{"s":"OL2 - 4.4 V","e":8363,"i":1.0},{"s":"OL2 - 4.4 V","e":8365,"i":1.0},{"s":"OL2 - 4.4 V","e":8367,"i":1.0}
],
"niRef": [
{"ion":"2+","e":8330,"i":0.02},{"ion":"2+","e":8332,"i":0.04},{"ion":"2+","e":8334,"i":0.06},{"ion":"2+","e":8336,"i":0.08},{"ion":"2+","e":8337,"i":0.1},{"ion":"2+","e":8338,"i":0.13},{"ion":"2+","e":8339,"i":0.2},{"ion":"2+","e":8340,"i":0.3},{"ion":"2+","e":8341,"i":0.44},{"ion":"2+","e":8342,"i":0.6},{"ion":"2+","e":8343,"i":0.72},{"ion":"2+","e":8344,"i":0.82},{"ion":"2+","e":8345,"i":0.93},{"ion":"2+","e":8346,"i":1.05},{"ion":"2+","e":8347,"i":1.17},{"ion":"2+","e":8348,"i":1.29},{"ion":"2+","e":8349,"i":1.4},{"ion":"2+","e":8350,"i":1.48},{"ion":"2+","e":8350.5,"i":1.49},{"ion":"2+","e":8351,"i":1.47},{"ion":"2+","e":8352,"i":1.38},{"ion":"2+","e":8353,"i":1.26},{"ion":"2+","e":8354,"i":1.16},{"ion":"2+","e":8355,"i":1.1},{"ion":"2+","e":8356,"i":1.05},{"ion":"2+","e":8357,"i":0.99},{"ion":"2+","e":8358,"i":0.93},{"ion":"2+","e":8359,"i":0.89},{"ion":"2+","e":8360,"i":0.86},{"ion":"2+","e":8361,"i":0.835},{"ion":"2+","e":8362,"i":0.83},{"ion":"2+","e":8363,"i":0.84},{"ion":"2+","e":8364,"i":0.86},{"ion":"2+","e":8365,"i":0.89},{"ion":"2+","e":8366,"i":0.92},{"ion":"2+","e":8367,"i":0.95},{"ion":"2+","e":8368,"i":0.98},{"ion":"2+","e":8370,"i":1.01},
{"ion":"3+","e":8330,"i":0.02},{"ion":"3+","e":8332,"i":0.035},{"ion":"3+","e":8334,"i":0.055},{"ion":"3+","e":8336,"i":0.07},{"ion":"3+","e":8338,"i":0.085},{"ion":"3+","e":8339,"i":0.1},{"ion":"3+","e":8340,"i":0.14},{"ion":"3+","e":8341,"i":0.24},{"ion":"3+","e":8342,"i":0.36},{"ion":"3+","e":8343,"i":0.46},{"ion":"3+","e":8344,"i":0.55},{"ion":"3+","e":8345,"i":0.65},{"ion":"3+","e":8346,"i":0.76},{"ion":"3+","e":8347,"i":0.88},{"ion":"3+","e":8348,"i":1.0},{"ion":"3+","e":8349,"i":1.13},{"ion":"3+","e":8350,"i":1.27},{"ion":"3+","e":8351,"i":1.4},{"ion":"3+","e":8352,"i":1.47},{"ion":"3+","e":8353,"i":1.44},{"ion":"3+","e":8354,"i":1.33},{"ion":"3+","e":8355,"i":1.23},{"ion":"3+","e":8356,"i":1.16},{"ion":"3+","e":8357,"i":1.1},{"ion":"3+","e":8358,"i":1.06},{"ion":"3+","e":8359,"i":1.03},{"ion":"3+","e":8360,"i":1.0},{"ion":"3+","e":8361,"i":0.98},{"ion":"3+","e":8362,"i":0.96},{"ion":"3+","e":8363,"i":0.95},{"ion":"3+","e":8364,"i":0.95},{"ion":"3+","e":8365,"i":0.955},{"ion":"3+","e":8366,"i":0.965},{"ion":"3+","e":8368,"i":0.975},{"ion":"3+","e":8370,"i":0.98},
{"ion":"3.875+","e":8330,"i":0.02},{"ion":"3.875+","e":8334,"i":0.05},{"ion":"3.875+","e":8336,"i":0.065},{"ion":"3.875+","e":8338,"i":0.075},{"ion":"3.875+","e":8340,"i":0.09},{"ion":"3.875+","e":8341,"i":0.11},{"ion":"3.875+","e":8342,"i":0.15},{"ion":"3.875+","e":8343,"i":0.2},{"ion":"3.875+","e":8344,"i":0.26},{"ion":"3.875+","e":8345,"i":0.33},{"ion":"3.875+","e":8346,"i":0.41},{"ion":"3.875+","e":8347,"i":0.5},{"ion":"3.875+","e":8348,"i":0.6},{"ion":"3.875+","e":8349,"i":0.71},{"ion":"3.875+","e":8350,"i":0.83},{"ion":"3.875+","e":8351,"i":0.95},{"ion":"3.875+","e":8352,"i":1.08},{"ion":"3.875+","e":8353,"i":1.23},{"ion":"3.875+","e":8354,"i":1.39},{"ion":"3.875+","e":8355,"i":1.49},{"ion":"3.875+","e":8355.6,"i":1.5},{"ion":"3.875+","e":8356.3,"i":1.42},{"ion":"3.875+","e":8357,"i":1.28},{"ion":"3.875+","e":8358,"i":1.15},{"ion":"3.875+","e":8359,"i":1.07},{"ion":"3.875+","e":8360,"i":1.03},{"ion":"3.875+","e":8362,"i":1.0},{"ion":"3.875+","e":8364,"i":0.99},{"ion":"3.875+","e":8366,"i":1.0},{"ion":"3.875+","e":8368,"i":1.01},{"ion":"3.875+","e":8370,"i":1.02}
],
"niLabA": [{"el":"Ni","ion":"2+","e":8339.2,"i":0.43},{"el":"Ni","ion":"3+","e":8353.4,"i":1.01},{"el":"Ni","ion":"3.875+","e":8347.5,"i":0.19}],
"niLabB": [{"el":"Ni","ion":"2+","e":8338.7,"i":0.43},{"el":"Ni","ion":"3+","e":8353.6,"i":1.01},{"el":"Ni","ion":"3.875+","e":8346.0,"i":0.19}],
"vA": [
{"t":0.3,"v":3.13},{"t":0.8,"v":3.4},{"t":1.3,"v":3.69},{"t":2,"v":3.73},{"t":3,"v":3.74},{"t":4,"v":3.76},{"t":5,"v":3.77},{"t":6.3,"v":3.79},{"t":7.5,"v":3.88},{"t":8.4,"v":3.99},{"t":9.5,"v":4.15},{"t":10.5,"v":4.3},{"t":11.3,"v":4.38},{"t":12.3,"v":4.15},{"t":13.2,"v":4.05},{"t":13.9,"v":3.99},{"t":15,"v":3.85},{"t":16.8,"v":3.74},{"t":18,"v":3.7},{"t":19.8,"v":3.64},{"t":20.5,"v":3.35},{"t":21.2,"v":3.05},{"t":23,"v":2.35},{"t":25.5,"v":1.56},{"t":26.5,"v":1.85},{"t":27.5,"v":2.3},{"t":28.2,"v":2.7},{"t":29.2,"v":3.2},{"t":30.3,"v":3.64},{"t":32,"v":3.7},{"t":33.5,"v":3.72},{"t":35,"v":3.74},{"t":36.5,"v":3.83},{"t":37.9,"v":3.99},{"t":39,"v":4.2},{"t":40.1,"v":4.38}
],
"vB": [
{"t":0,"v":3.08},{"t":0.3,"v":3.4},{"t":0.6,"v":3.69},{"t":1.5,"v":3.72},{"t":2.9,"v":3.74},{"t":5,"v":3.78},{"t":7.1,"v":3.84},{"t":9,"v":4.1},{"t":11.1,"v":4.38},{"t":12.5,"v":4.1},{"t":14.6,"v":3.89},{"t":16.5,"v":3.75},{"t":19.3,"v":3.64},{"t":20,"v":3.35},{"t":20.5,"v":3.03},{"t":22,"v":2.3},{"t":23.6,"v":1.66},{"t":24.5,"v":1.55},{"t":25.4,"v":1.51},{"t":27,"v":1.49},{"t":29.2,"v":1.47},{"t":30.1,"v":1.12},{"t":32,"v":1.05},{"t":34.4,"v":1.02},{"t":36,"v":1.0},{"t":37.2,"v":0.97},{"t":38.5,"v":0.9},{"t":39.8,"v":0.79},{"t":40.9,"v":1.22},{"t":42.3,"v":1.76},{"t":44,"v":1.85},{"t":45.6,"v":1.91},{"t":48,"v":1.96},{"t":50.8,"v":2.0},{"t":51.5,"v":2.3},{"t":52.7,"v":2.7},{"t":53.5,"v":3.1},{"t":54.1,"v":3.49},{"t":55.5,"v":3.6},{"t":56.9,"v":3.64},{"t":59,"v":3.8},{"t":61.6,"v":3.94},{"t":64,"v":4.1},{"t":66,"v":4.22},{"t":68.4,"v":4.38}
],
"mA": [{"s":"Pristine","t":0.3,"v":3.13},{"s":"4.4 V","t":11.3,"v":4.38},{"s":"3.0 V","t":21.2,"v":3.03},{"s":"OL1","t":25.5,"v":1.56},{"s":"OL1 - 4.4 V","t":40.1,"v":4.38}],
"mB": [{"s":"Pristine","t":0,"v":3.08},{"s":"4.4 V","t":11.1,"v":4.38},{"s":"3.0 V","t":20.8,"v":3.03},{"s":"OL2","t":39.8,"v":0.79},{"s":"OL2 - 4.4 V","t":68.4,"v":4.38}]
},
"vconcat": [
{
"bounds": "flush",
"spacing": 14,
"resolve": {"scale": {"x": "independent", "y": "independent", "color": "independent", "fill": "independent", "stroke": "independent", "strokeDash": "independent"}},
"hconcat": [
{
"width": 317, "height": 284,
"title": {"text": "a.", "anchor": "start", "frame": "group", "dx": -60, "fontSize": 23, "offset": -8, "baseline": "alphabetic"},
"resolve": {"axis": {"x": "independent"}},
"layer": [
{"data": {"name": "mnRef"}, "mark": {"type": "line", "strokeWidth": 1, "interpolate": "monotone", "clip": true},
 "encoding": {
  "x": {"field": "e", "type": "quantitative", "scale": {"domain": [6538, 6570], "nice": false, "zero": false}, "axis": {"orient": "bottom", "values": [6540,6545,6550,6555,6560,6565,6570], "format": "d", "labelExpr": "datum.value % 10 === 0 ? datum.label : ''", "tickSize": -6, "labelPadding": 13, "title": null, "grid": true, "gridOpacity": {"condition": {"test": "datum.value % 10 === 0", "value": 1}, "value": 0}}},
  "y": {"field": "i", "type": "quantitative", "scale": {"domain": [-0.012, 1.708], "nice": false, "zero": false}, "axis": {"orient": "left", "values": [0,0.25,0.5,0.75,1,1.25,1.5], "format": ".1f", "labelExpr": "(datum.value*4) % 2 === 0 ? datum.label : ''", "tickSize": -6, "labelPadding": 14, "title": "Intensity (a.u.)", "titlePadding": 5, "grid": true, "gridOpacity": {"condition": {"test": "(datum.value*4) % 2 === 0 && datum.value > 0", "value": 1}, "value": 0}}},
  "stroke": {"field": "ion", "type": "nominal", "scale": {"domain": ["2+","3+","4+"], "range": ["#d0d0d0","#a3a3a3","#726d6d"]}, "legend": null}
 }},
{"data": {"name": "mnBase"}, "mark": {"type": "line", "interpolate": "monotone", "clip": true, "strokeWidth": 1.7},
 "encoding": {
  "x": {"field": "e", "type": "quantitative", "axis": {"orient": "top", "ticks": false, "labels": false, "grid": false, "title": null}},
  "y": {"field": "i", "type": "quantitative"},
  "color": {"field": "s", "type": "nominal", "scale": {"domain": ["Pristine","4.4 V","3.0 V","OL1","OL1 - 4.4 V"], "range": ["#e8413c","#3b6cb5","#2e9d5b","#2e9d5b","#3b6cb5"]}, "legend": null},
  "strokeDash": {"field": "s", "type": "nominal", "scale": {"domain": ["Pristine","4.4 V","3.0 V","OL1","OL1 - 4.4 V"], "range": [[1,0],[1,0],[1,0],[6,3.5],[6,3.5]]}, "legend": null}
 }},
{"data": {"name": "mnOL1"}, "mark": {"type": "line", "interpolate": "monotone", "clip": true, "strokeWidth": 2.8},
 "encoding": {
  "x": {"field": "e", "type": "quantitative", "axis": null},
  "y": {"field": "i", "type": "quantitative"},
  "color": {"field": "s", "type": "nominal", "legend": null},
  "strokeDash": {"field": "s", "type": "nominal", "legend": null}
 }},
{"data": {"name": "mnLab"}, "mark": {"type": "text", "align": "right", "baseline": "middle", "fontSize": 17, "font": "Liberation Sans"},
 "encoding": {
  "x": {"field": "e", "type": "quantitative", "axis": null},
  "y": {"field": "i", "type": "quantitative"},
  "text": {"field": "el"},
  "fill": {"field": "ion", "type": "nominal", "scale": {"domain": ["2+","3+","4+"], "range": ["#a3a3a3","#4a4a4a","#333333"]}, "legend": null}
 }},
{"data": {"name": "mnLab"}, "mark": {"type": "text", "align": "left", "baseline": "middle", "fontSize": 11.5, "dy": -7, "dx": 0.5, "font": "Liberation Sans"},
 "encoding": {
  "x": {"field": "e", "type": "quantitative", "axis": null},
  "y": {"field": "i", "type": "quantitative"},
  "text": {"field": "ion"},
  "fill": {"field": "ion", "type": "nominal", "legend": null}
 }}
]
},
{
"width": 320, "height": 284,
"title": {"text": "NMC532", "anchor": "middle", "frame": "group", "fontSize": 20, "offset": -9, "baseline": "alphabetic"},
"resolve": {"axis": {"x": "independent"}},
"layer": [
{"data": {"name": "coRef"}, "mark": {"type": "line", "strokeWidth": 1, "interpolate": "monotone", "clip": true},
 "encoding": {
  "x": {"field": "e", "type": "quantitative", "scale": {"domain": [7707, 7740], "nice": false, "zero": false}, "axis": {"orient": "bottom", "values": [7710,7715,7720,7725,7730,7735,7740], "format": "d", "labelExpr": "datum.value % 10 === 0 ? datum.label : ''", "tickSize": -6, "labelPadding": 13, "title": "Energy (eV)", "titlePadding": 9, "grid": true, "gridOpacity": {"condition": {"test": "datum.value % 10 === 0", "value": 1}, "value": 0}}},
  "y": {"field": "i", "type": "quantitative", "scale": {"domain": [-0.012, 1.708], "nice": false, "zero": false}, "axis": {"orient": "left", "values": [0.5,1,1.5], "domain": false, "ticks": false, "labels": false, "title": null, "grid": true}},
  "stroke": {"field": "ion", "type": "nominal", "scale": {"domain": ["2+","3+"], "range": ["#a6a6a6","#8c8484"]}, "legend": null}
 }},
{"data": {"name": "coBase"}, "mark": {"type": "line", "interpolate": "monotone", "clip": true, "strokeWidth": 1.7},
 "encoding": {
  "x": {"field": "e", "type": "quantitative", "axis": {"orient": "top", "ticks": false, "labels": false, "grid": false, "title": null}},
  "y": {"field": "i", "type": "quantitative"},
  "color": {"field": "s", "type": "nominal", "scale": {"domain": ["Pristine","4.4 V","3.0 V","OL1","OL1 - 4.4 V"], "range": ["#e8413c","#3b6cb5","#2e9d5b","#2e9d5b","#3b6cb5"]}, "legend": null},
  "strokeDash": {"field": "s", "type": "nominal", "scale": {"domain": ["Pristine","4.4 V","3.0 V","OL1","OL1 - 4.4 V"], "range": [[1,0],[1,0],[1,0],[6,3.5],[6,3.5]]}, "legend": null}
 }},
{"data": {"name": "coOL1"}, "mark": {"type": "line", "interpolate": "monotone", "clip": true, "strokeWidth": 2.8},
 "encoding": {
  "x": {"field": "e", "type": "quantitative", "axis": null},
  "y": {"field": "i", "type": "quantitative"},
  "color": {"field": "s", "type": "nominal", "legend": null},
  "strokeDash": {"field": "s", "type": "nominal", "legend": null}
 }},
{"data": {"name": "coLab"}, "mark": {"type": "text", "align": "right", "baseline": "middle", "fontSize": 17, "font": "Liberation Sans"},
 "encoding": {
  "x": {"field": "e", "type": "quantitative", "axis": null},
  "y": {"field": "i", "type": "quantitative"},
  "text": {"field": "el"},
  "fill": {"field": "ion", "type": "nominal", "scale": {"domain": ["2+","3+"], "range": ["#a3a3a3","#444444"]}, "legend": null}
 }},
{"data": {"name": "coLab"}, "mark": {"type": "text", "align": "left", "baseline": "middle", "fontSize": 11.5, "dy": -7, "dx": 0.5, "font": "Liberation Sans"},
 "encoding": {
  "x": {"field": "e", "type": "quantitative", "axis": null},
  "y": {"field": "i", "type": "quantitative"},
  "text": {"field": "ion"},
  "fill": {"field": "ion", "type": "nominal", "legend": null}
 }}
]
},
{
"width": 316, "height": 284,
"resolve": {"axis": {"x": "independent"}},
"layer": [
{"data": {"name": "niRef"}, "mark": {"type": "line", "strokeWidth": 1, "interpolate": "monotone", "clip": true},
 "encoding": {
  "x": {"field": "e", "type": "quantitative", "scale": {"domain": [8330, 8370], "nice": false, "zero": false}, "axis": {"orient": "bottom", "values": [8335,8340,8345,8350,8355,8360,8365,8370], "format": "d", "labelExpr": "datum.value % 10 === 0 ? datum.label : ''", "tickSize": -6, "labelPadding": 13, "title": null, "grid": true, "gridOpacity": {"condition": {"test": "datum.value % 10 === 0", "value": 1}, "value": 0}}},
  "y": {"field": "i", "type": "quantitative", "scale": {"domain": [-0.012, 1.708], "nice": false, "zero": false}, "axis": {"orient": "right", "values": [0.5,1,1.5], "domain": true, "ticks": false, "labels": false, "title": null, "grid": true}},
  "stroke": {"field": "ion", "type": "nominal", "scale": {"domain": ["2+","3+","3.875+"], "range": ["#d2d2d2","#b0b0b0","#a9b1c6"]}, "legend": null}
 }},
{"data": {"name": "niBase"}, "mark": {"type": "line", "interpolate": "monotone", "clip": true, "strokeWidth": 1.7},
 "encoding": {
  "x": {"field": "e", "type": "quantitative", "axis": {"orient": "top", "ticks": false, "labels": false, "grid": false, "title": null}},
  "y": {"field": "i", "type": "quantitative"},
  "color": {"field": "s", "type": "nominal", "scale": {"domain": ["Pristine","4.4 V","3.0 V","OL1","OL1 - 4.4 V"], "range": ["#e8413c","#3b6cb5","#2e9d5b","#2e9d5b","#3b6cb5"]}, "legend": {"orient": "none", "legendX": 186, "legendY": 171, "title": null, "symbolType": "stroke", "symbolSize": 1369, "symbolStrokeWidth": 2, "clipHeight": 19, "rowPadding": 0, "labelFontSize": 16.5, "labelFont": "Liberation Sans", "labelColor": "#1a1a1a", "labelOffset": 3, "padding": 0}},
  "strokeDash": {"field": "s", "type": "nominal", "scale": {"domain": ["Pristine","4.4 V","3.0 V","OL1","OL1 - 4.4 V"], "range": [[1,0],[1,0],[1,0],[6,3.5],[6,3.5]]}, "legend": {"orient": "none", "legendX": 186, "legendY": 171, "title": null, "symbolType": "stroke", "symbolSize": 1369, "symbolStrokeWidth": 2, "clipHeight": 19, "rowPadding": 0, "labelFontSize": 16.5, "labelFont": "Liberation Sans", "labelColor": "#1a1a1a", "labelOffset": 3, "padding": 0}}
 }},
{"data": {"name": "niOL1"}, "mark": {"type": "line", "interpolate": "monotone", "clip": true, "strokeWidth": 2.8},
 "encoding": {
  "x": {"field": "e", "type": "quantitative", "axis": null},
  "y": {"field": "i", "type": "quantitative"},
  "color": {"field": "s", "type": "nominal", "legend": null},
  "strokeDash": {"field": "s", "type": "nominal", "legend": null}
 }},
{"data": {"name": "niLabA"}, "mark": {"type": "text", "align": "right", "baseline": "middle", "fontSize": 17, "font": "Liberation Sans"},
 "encoding": {
  "x": {"field": "e", "type": "quantitative", "axis": null},
  "y": {"field": "i", "type": "quantitative"},
  "text": {"field": "el"},
  "fill": {"field": "ion", "type": "nominal", "scale": {"domain": ["2+","3+","3.875+"], "range": ["#a6a6a6","#444444","#1a1a1a"]}, "legend": null}
 }},
{"data": {"name": "niLabA"}, "mark": {"type": "text", "align": "left", "baseline": "middle", "fontSize": 11.5, "dy": -7, "dx": 0.5, "font": "Liberation Sans"},
 "encoding": {
  "x": {"field": "e", "type": "quantitative", "axis": null},
  "y": {"field": "i", "type": "quantitative"},
  "text": {"field": "ion"},
  "fill": {"field": "ion", "type": "nominal", "legend": null}
 }}
]
},
{
"width": 154, "height": 284,
"resolve": {"axis": {"x": "independent"}},
"layer": [
{"data": {"name": "vA"}, "mark": {"type": "line", "color": "#111111", "strokeWidth": 2.2, "interpolate": "catmull-rom"},
 "encoding": {
  "x": {"field": "v", "type": "quantitative", "scale": {"domain": [0.44, 5], "nice": false, "zero": false}, "axis": {"orient": "bottom", "values": [1,2,3,4,5], "format": "d", "tickSize": -6, "labelPadding": 13, "title": "Voltage (V)", "titlePadding": 9, "grid": true, "gridOpacity": {"condition": {"test": "datum.value < 5", "value": 1}, "value": 0}}},
  "y": {"field": "t", "type": "quantitative", "scale": {"domain": [-5, 45], "reverse": true, "nice": false, "zero": false}, "axis": {"orient": "right", "values": [0,10,20,30,40], "format": "d", "tickSize": -5, "labelPadding": 12, "title": "Time (h)", "titleAngle": 270, "titleBaseline": "top", "titlePadding": 8, "grid": true}},
  "order": {"field": "t", "type": "quantitative"}
 }},
{"data": {"name": "mA"}, "mark": {"type": "point", "shape": "square", "size": 90, "filled": true, "opacity": 1, "strokeWidth": 1.4},
 "encoding": {
  "x": {"field": "v", "type": "quantitative", "axis": {"orient": "top", "values": [1,2,3,4], "tickSize": -6, "labels": false, "grid": false, "title": null}},
  "y": {"field": "t", "type": "quantitative"},
  "fill": {"field": "s", "type": "nominal", "scale": {"domain": ["Pristine","4.4 V","3.0 V","OL1","OL1 - 4.4 V"], "range": ["#e8413c","#3b6cb5","#2e9d5b","#ffffff","#ffffff"]}, "legend": null},
  "stroke": {"field": "s", "type": "nominal", "scale": {"domain": ["Pristine","4.4 V","3.0 V","OL1","OL1 - 4.4 V"], "range": ["#e8413c","#3b6cb5","#2e9d5b","#2e9d5b","#3b6cb5"]}, "legend": null}
 }}
]
}
]
},
{
"bounds": "flush",
"spacing": 14,
"resolve": {"scale": {"x": "independent", "y": "independent", "color": "independent", "fill": "independent", "stroke": "independent", "strokeDash": "independent"}},
"hconcat": [
{
"width": 317, "height": 284,
"title": {"text": "b.", "anchor": "start", "frame": "group", "dx": -60, "fontSize": 23, "offset": -13, "baseline": "alphabetic"},
"resolve": {"axis": {"x": "independent"}},
"layer": [
{"data": {"name": "mnRef"}, "mark": {"type": "line", "strokeWidth": 1, "interpolate": "monotone", "clip": true},
 "encoding": {
  "x": {"field": "e", "type": "quantitative", "scale": {"domain": [6538, 6570], "nice": false, "zero": false}, "axis": {"orient": "bottom", "values": [6540,6545,6550,6555,6560,6565,6570], "format": "d", "labelExpr": "datum.value % 10 === 0 ? datum.label : ''", "tickSize": -6, "labelPadding": 13, "title": null, "grid": true, "gridOpacity": {"condition": {"test": "datum.value % 10 === 0", "value": 1}, "value": 0}}},
  "y": {"field": "i", "type": "quantitative", "scale": {"domain": [-0.012, 1.708], "nice": false, "zero": false}, "axis": {"orient": "left", "values": [0,0.25,0.5,0.75,1,1.25,1.5], "format": ".1f", "labelExpr": "(datum.value*4) % 2 === 0 ? datum.label : ''", "tickSize": -6, "labelPadding": 14, "title": "Intensity (a.u.)", "titlePadding": 5, "grid": true, "gridOpacity": {"condition": {"test": "(datum.value*4) % 2 === 0 && datum.value > 0", "value": 1}, "value": 0}}},
  "stroke": {"field": "ion", "type": "nominal", "scale": {"domain": ["2+","3+","4+"], "range": ["#d0d0d0","#a3a3a3","#726d6d"]}, "legend": null}
 }},
{"data": {"name": "mnBase"}, "mark": {"type": "line", "interpolate": "monotone", "clip": true, "strokeWidth": 1.7},
 "encoding": {
  "x": {"field": "e", "type": "quantitative", "axis": {"orient": "top", "ticks": false, "labels": false, "grid": false, "title": null}},
  "y": {"field": "i", "type": "quantitative"},
  "color": {"field": "s", "type": "nominal", "scale": {"domain": ["Pristine","4.4 V","3.0 V","OL2","OL2 - 4.4 V"], "range": ["#e8413c","#3b6cb5","#2e9d5b","#2e9d5b","#3b6cb5"]}, "legend": null},
  "strokeDash": {"field": "s", "type": "nominal", "scale": {"domain": ["Pristine","4.4 V","3.0 V","OL2","OL2 - 4.4 V"], "range": [[1,0],[1,0],[1,0],[2.2,2.6],[2.2,2.6]]}, "legend": null}
 }},
{"data": {"name": "mnOL2"}, "mark": {"type": "line", "interpolate": "monotone", "clip": true, "strokeWidth": 2.5},
 "encoding": {
  "x": {"field": "e", "type": "quantitative", "axis": null},
  "y": {"field": "i", "type": "quantitative"},
  "color": {"field": "s", "type": "nominal", "legend": null},
  "strokeDash": {"field": "s", "type": "nominal", "legend": null}
 }},
{"data": {"name": "mnLab"}, "mark": {"type": "text", "align": "right", "baseline": "middle", "fontSize": 17, "font": "Liberation Sans"},
 "encoding": {
  "x": {"field": "e", "type": "quantitative", "axis": null},
  "y": {"field": "i", "type": "quantitative"},
  "text": {"field": "el"},
  "fill": {"field": "ion", "type": "nominal", "scale": {"domain": ["2+","3+","4+"], "range": ["#a3a3a3","#4a4a4a","#333333"]}, "legend": null}
 }},
{"data": {"name": "mnLab"}, "mark": {"type": "text", "align": "left", "baseline": "middle", "fontSize": 11.5, "dy": -7, "dx": 0.5, "font": "Liberation Sans"},
 "encoding": {
  "x": {"field": "e", "type": "quantitative", "axis": null},
  "y": {"field": "i", "type": "quantitative"},
  "text": {"field": "ion"},
  "fill": {"field": "ion", "type": "nominal", "legend": null}
 }}
]
},
{
"width": 320, "height": 284,
"title": {"text": "NMC532", "anchor": "middle", "frame": "group", "fontSize": 20, "offset": -11, "baseline": "alphabetic"},
"resolve": {"axis": {"x": "independent"}},
"layer": [
{"data": {"name": "coRef"}, "mark": {"type": "line", "strokeWidth": 1, "interpolate": "monotone", "clip": true},
 "encoding": {
  "x": {"field": "e", "type": "quantitative", "scale": {"domain": [7707, 7740], "nice": false, "zero": false}, "axis": {"orient": "bottom", "values": [7710,7715,7720,7725,7730,7735,7740], "format": "d", "labelExpr": "datum.value % 10 === 0 ? datum.label : ''", "tickSize": -6, "labelPadding": 13, "title": "Energy (eV)", "titlePadding": 9, "grid": true, "gridOpacity": {"condition": {"test": "datum.value % 10 === 0", "value": 1}, "value": 0}}},
  "y": {"field": "i", "type": "quantitative", "scale": {"domain": [-0.012, 1.708], "nice": false, "zero": false}, "axis": {"orient": "left", "values": [0.5,1,1.5], "domain": false, "ticks": false, "labels": false, "title": null, "grid": true}},
  "stroke": {"field": "ion", "type": "nominal", "scale": {"domain": ["2+","3+"], "range": ["#a6a6a6","#8c8484"]}, "legend": null}
 }},
{"data": {"name": "coBase"}, "mark": {"type": "line", "interpolate": "monotone", "clip": true, "strokeWidth": 1.7},
 "encoding": {
  "x": {"field": "e", "type": "quantitative", "axis": {"orient": "top", "ticks": false, "labels": false, "grid": false, "title": null}},
  "y": {"field": "i", "type": "quantitative"},
  "color": {"field": "s", "type": "nominal", "scale": {"domain": ["Pristine","4.4 V","3.0 V","OL2","OL2 - 4.4 V"], "range": ["#e8413c","#3b6cb5","#2e9d5b","#2e9d5b","#3b6cb5"]}, "legend": null},
  "strokeDash": {"field": "s", "type": "nominal", "scale": {"domain": ["Pristine","4.4 V","3.0 V","OL2","OL2 - 4.4 V"], "range": [[1,0],[1,0],[1,0],[2.2,2.6],[2.2,2.6]]}, "legend": null}
 }},
{"data": {"name": "coOL2"}, "mark": {"type": "line", "interpolate": "monotone", "clip": true, "strokeWidth": 2.5},
 "encoding": {
  "x": {"field": "e", "type": "quantitative", "axis": null},
  "y": {"field": "i", "type": "quantitative"},
  "color": {"field": "s", "type": "nominal", "legend": null},
  "strokeDash": {"field": "s", "type": "nominal", "legend": null}
 }},
{"data": {"name": "coLab"}, "mark": {"type": "text", "align": "right", "baseline": "middle", "fontSize": 17, "font": "Liberation Sans"},
 "encoding": {
  "x": {"field": "e", "type": "quantitative", "axis": null},
  "y": {"field": "i", "type": "quantitative"},
  "text": {"field": "el"},
  "fill": {"field": "ion", "type": "nominal", "scale": {"domain": ["2+","3+"], "range": ["#a3a3a3","#444444"]}, "legend": null}
 }},
{"data": {"name": "coLab"}, "mark": {"type": "text", "align": "left", "baseline": "middle", "fontSize": 11.5, "dy": -7, "dx": 0.5, "font": "Liberation Sans"},
 "encoding": {
  "x": {"field": "e", "type": "quantitative", "axis": null},
  "y": {"field": "i", "type": "quantitative"},
  "text": {"field": "ion"},
  "fill": {"field": "ion", "type": "nominal", "legend": null}
 }}
]
},
{
"width": 316, "height": 284,
"resolve": {"axis": {"x": "independent"}},
"layer": [
{"data": {"name": "niRef"}, "mark": {"type": "line", "strokeWidth": 1, "interpolate": "monotone", "clip": true},
 "encoding": {
  "x": {"field": "e", "type": "quantitative", "scale": {"domain": [8330, 8367], "nice": false, "zero": false}, "axis": {"orient": "bottom", "values": [8335,8340,8345,8350,8355,8360,8365], "format": "d", "labelExpr": "datum.value % 10 === 0 ? datum.label : ''", "tickSize": -6, "labelPadding": 13, "title": null, "grid": true, "gridOpacity": {"condition": {"test": "datum.value % 10 === 0", "value": 1}, "value": 0}}},
  "y": {"field": "i", "type": "quantitative", "scale": {"domain": [-0.012, 1.708], "nice": false, "zero": false}, "axis": {"orient": "right", "values": [0.5,1,1.5], "domain": true, "ticks": false, "labels": false, "title": null, "grid": true}},
  "stroke": {"field": "ion", "type": "nominal", "scale": {"domain": ["2+","3+","3.875+"], "range": ["#d2d2d2","#b0b0b0","#a9b1c6"]}, "legend": null}
 }},
{"data": {"name": "niBase"}, "mark": {"type": "line", "interpolate": "monotone", "clip": true, "strokeWidth": 1.7},
 "encoding": {
  "x": {"field": "e", "type": "quantitative", "axis": {"orient": "top", "ticks": false, "labels": false, "grid": false, "title": null}},
  "y": {"field": "i", "type": "quantitative"},
  "color": {"field": "s", "type": "nominal", "scale": {"domain": ["Pristine","4.4 V","3.0 V","OL2","OL2 - 4.4 V"], "range": ["#e8413c","#3b6cb5","#2e9d5b","#2e9d5b","#3b6cb5"]}, "legend": {"orient": "none", "legendX": 186, "legendY": 171, "title": null, "symbolType": "stroke", "symbolSize": 1369, "symbolStrokeWidth": 2, "clipHeight": 19, "rowPadding": 0, "labelFontSize": 16.5, "labelFont": "Liberation Sans", "labelColor": "#1a1a1a", "labelOffset": 3, "padding": 0}},
  "strokeDash": {"field": "s", "type": "nominal", "scale": {"domain": ["Pristine","4.4 V","3.0 V","OL2","OL2 - 4.4 V"], "range": [[1,0],[1,0],[1,0],[2.2,2.6],[2.2,2.6]]}, "legend": {"orient": "none", "legendX": 186, "legendY": 171, "title": null, "symbolType": "stroke", "symbolSize": 1369, "symbolStrokeWidth": 2, "clipHeight": 19, "rowPadding": 0, "labelFontSize": 16.5, "labelFont": "Liberation Sans", "labelColor": "#1a1a1a", "labelOffset": 3, "padding": 0}}
 }},
{"data": {"name": "niOL2"}, "mark": {"type": "line", "interpolate": "monotone", "clip": true, "strokeWidth": 2.5},
 "encoding": {
  "x": {"field": "e", "type": "quantitative", "axis": null},
  "y": {"field": "i", "type": "quantitative"},
  "color": {"field": "s", "type": "nominal", "legend": null},
  "strokeDash": {"field": "s", "type": "nominal", "legend": null}
 }},
{"data": {"name": "niLabB"}, "mark": {"type": "text", "align": "right", "baseline": "middle", "fontSize": 17, "font": "Liberation Sans"},
 "encoding": {
  "x": {"field": "e", "type": "quantitative", "axis": null},
  "y": {"field": "i", "type": "quantitative"},
  "text": {"field": "el"},
  "fill": {"field": "ion", "type": "nominal", "scale": {"domain": ["2+","3+","3.875+"], "range": ["#a6a6a6","#444444","#1a1a1a"]}, "legend": null}
 }},
{"data": {"name": "niLabB"}, "mark": {"type": "text", "align": "left", "baseline": "middle", "fontSize": 11.5, "dy": -7, "dx": 0.5, "font": "Liberation Sans"},
 "encoding": {
  "x": {"field": "e", "type": "quantitative", "axis": null},
  "y": {"field": "i", "type": "quantitative"},
  "text": {"field": "ion"},
  "fill": {"field": "ion", "type": "nominal", "legend": null}
 }}
]
},
{
"width": 154, "height": 284,
"resolve": {"axis": {"x": "independent"}},
"layer": [
{"data": {"name": "vB"}, "mark": {"type": "line", "color": "#111111", "strokeWidth": 2.2, "interpolate": "catmull-rom"},
 "encoding": {
  "x": {"field": "v", "type": "quantitative", "scale": {"domain": [0.44, 5], "nice": false, "zero": false}, "axis": {"orient": "bottom", "values": [1,2,3,4,5], "format": "d", "tickSize": -6, "labelPadding": 13, "title": "Voltage (V)", "titlePadding": 9, "grid": true, "gridOpacity": {"condition": {"test": "datum.value < 5", "value": 1}, "value": 0}}},
  "y": {"field": "t", "type": "quantitative", "scale": {"domain": [-5, 75], "reverse": true, "nice": false, "zero": false}, "axis": {"orient": "right", "values": [0,20,40,60], "format": "d", "tickSize": -5, "labelPadding": 12, "title": "Time (h)", "titleAngle": 270, "titleBaseline": "top", "titlePadding": 8, "grid": true}},
  "order": {"field": "t", "type": "quantitative"}
 }},
{"data": {"name": "mB"}, "mark": {"type": "point", "shape": "square", "size": 90, "filled": true, "opacity": 1, "strokeWidth": 1.4},
 "encoding": {
  "x": {"field": "v", "type": "quantitative", "axis": {"orient": "top", "values": [1,2,3,4], "tickSize": -6, "labels": false, "grid": false, "title": null}},
  "y": {"field": "t", "type": "quantitative"},
  "fill": {"field": "s", "type": "nominal", "scale": {"domain": ["Pristine","4.4 V","3.0 V","OL2","OL2 - 4.4 V"], "range": ["#e8413c","#3b6cb5","#2e9d5b","#ffffff","#ffffff"]}, "legend": null},
  "stroke": {"field": "s", "type": "nominal", "scale": {"domain": ["Pristine","4.4 V","3.0 V","OL2","OL2 - 4.4 V"], "range": ["#e8413c","#3b6cb5","#2e9d5b","#2e9d5b","#3b6cb5"]}, "legend": null}
 }},
{"data": {"name": "mB"}, "transform": [{"filter": "indexof(datum.s, 'OL2') === 0"}], "mark": {"type": "point", "shape": "M-1,-1H1V0H-1Z", "size": 90, "filled": true, "opacity": 1, "strokeWidth": 0},
 "encoding": {
  "x": {"field": "v", "type": "quantitative", "axis": null},
  "y": {"field": "t", "type": "quantitative"},
  "color": {"field": "s", "type": "nominal", "scale": {"domain": ["OL2","OL2 - 4.4 V"], "range": ["#2e9d5b","#3b6cb5"]}, "legend": null}
 }}
]
}
]
}
]
}
